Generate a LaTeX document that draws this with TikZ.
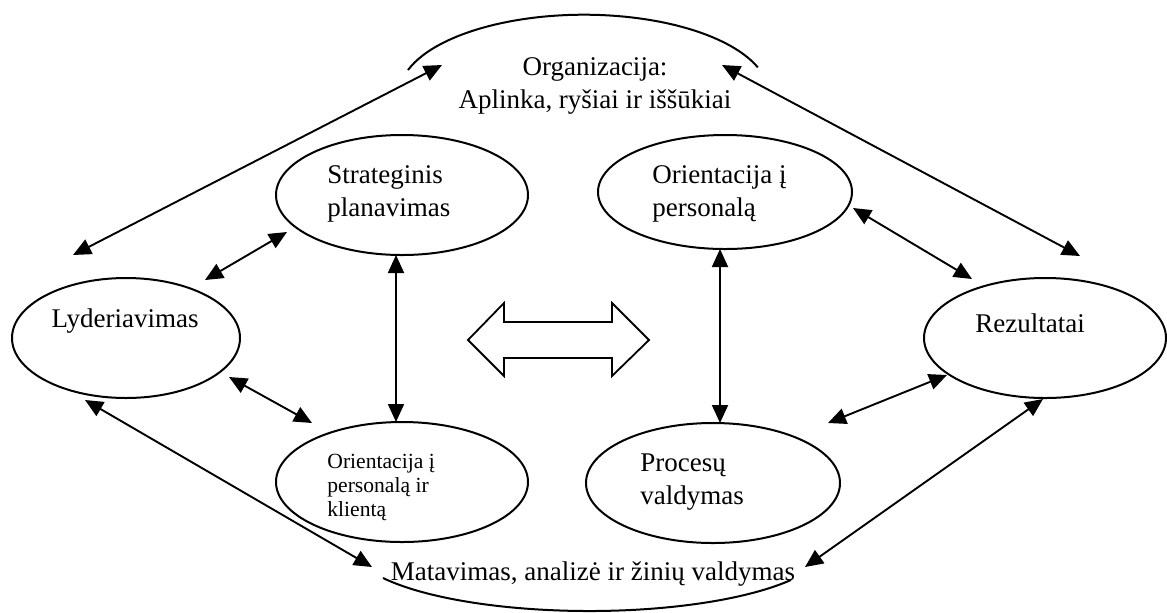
\documentclass[tikz,border=0pt]{standalone}
\usepackage{fontspec}
\setmainfont{Liberation Serif}
\usetikzlibrary{arrows.meta,shapes.geometric}

\begin{document}
\begin{tikzpicture}[x=0.5pt,y=-0.5pt,
    area/.style={draw, line width=1pt, ellipse, inner sep=0pt, outer sep=0pt},
    lbl/.style={font=\fontsize{13.5}{16.3}\selectfont, align=left, inner sep=0pt},
    lblsmall/.style={font=\fontsize{10.8}{12}\selectfont, align=left, inner sep=0pt},
    link/.style={line width=0.95pt, {Triangle[length=9pt,width=8pt]}-{Triangle[length=9pt,width=8pt]}}]
    \useasboundingbox (0,0) rectangle (1167,612);
    % the six ellipses
    \node[area, minimum width=114pt, minimum height=60pt] (lyd) at (126,338) {};
    \node[area, minimum width=126pt, minimum height=60pt] (strat) at (402,195) {};
    \node[area, minimum width=127pt, minimum height=57pt] (oper) at (725,192) {};
    \node[area, minimum width=121pt, minimum height=60pt] (rez) at (1045,338) {};
    \node[area, minimum width=126pt, minimum height=60pt] (orientk) at (402,482) {};
    \node[area, minimum width=127pt, minimum height=60pt] (proc) at (713,483) {};
    % their texts
    \node[lbl] (lydtxt) at (125,321) {Lyderiavimas};
    \node[lbl, anchor=west] (strattxt) at (327,194) {Strateginis\\planavimas};
    \node[lbl, anchor=west] (opertxt) at (652,194) {Orientacija į\\personalą};
    \node[lbl] (reztxt) at (1030,323) {Rezultatai};
    \node[lblsmall, anchor=west] (orientktxt) at (327,487) {Orientacija į\\personalą ir\\klientą};
    \node[lbl, anchor=west] (proctxt) at (640,482) {Procesų\\valdymas};
    % organization on top, measurement at the bottom, each with its arc
    \node[lbl, align=center] (org) at (595,86) {Organizacija:\\Aplinka, ryšiai ir iššūkiai};
    \draw[line width=1pt] (408,70) arc[start angle=198, end angle=340, x radius=185, y radius=80];
    \node[lbl] (mat) at (593,574) {Matavimas, analizė ir žinių valdymas};
    \draw[line width=1pt] (383,578) arc[start angle=150, end angle=32, x radius=238, y radius=66];
    % free arrow ends
    \coordinate (lydorg) at (73,255);
    \coordinate (orglyd) at (442,65);
    \coordinate (orgrez) at (722,65);
    \coordinate (rezorg) at (1080,256);
    \coordinate (lydstrat) at (205,280);
    \coordinate (stratlyd) at (287,232);
    \coordinate (operrez) at (853,208);
    \coordinate (rezoper) at (972,279);
    \coordinate (lydorientk) at (229,377);
    \coordinate (orientklyd) at (312,423);
    \coordinate (procrez) at (828,423);
    \coordinate (rezproc) at (947,375);
    \coordinate (lydmat) at (85,400);
    \coordinate (matlyd) at (372,567);
    \coordinate (rezmat) at (1043,399);
    \coordinate (matrez) at (805,567);
    \draw[link] (lydorg) -- (orglyd);
    \draw[link] (orgrez) -- (rezorg);
    \draw[link] (lydstrat) -- (stratlyd);
    \draw[link] (operrez) -- (rezoper);
    \draw[link] ([xshift=-3pt]strat.south) -- ([xshift=-3pt]orientk.north);
    \draw[link] ([xshift=-2.5pt]oper.south) -- ([xshift=-2.5pt]oper.south |- proc.north);
    \draw[link] (lydorientk) -- (orientklyd);
    \draw[link] (procrez) -- (rezproc);
    \draw[link] (lydmat) -- (matlyd);
    \draw[link] (rezmat) -- (matrez);
    % hollow double arrow in the middle
    \draw[line width=0.9pt] (468,340) -- (504,303) -- (504,322) -- (612,322) -- (612,303)
      -- (649,340) -- (612,376) -- (612,358) -- (504,358) -- (504,376) -- cycle;
  \end{tikzpicture}
\end{document}
